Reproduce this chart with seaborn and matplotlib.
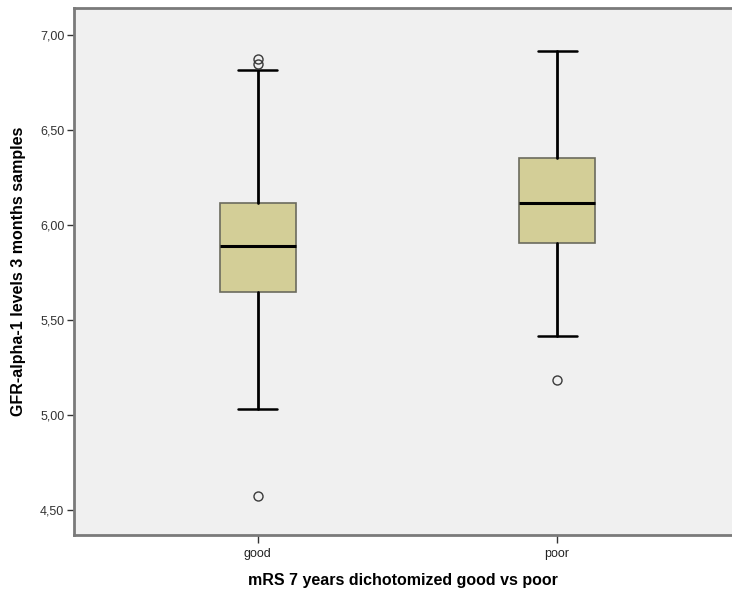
import matplotlib
matplotlib.use("Agg")
import matplotlib.pyplot as plt
import matplotlib.ticker as mticker
import seaborn as sns

# ── Data (five-number summaries) ────────────────────────────────────────────
GROUPS   = ["good", "poor"]
WHIS_LO  = [5.03, 5.415]
Q1       = [5.647, 5.905]
MEDIAN   = [5.889, 6.114]
Q3       = [6.117, 6.354]
WHIS_HI  = [6.814, 6.914]
FLIERS   = [[4.574, 6.847, 6.872], [5.184]]
Y_TICKS  = [4.50, 5.00, 5.50, 6.00, 6.50, 7.00]

X_LABEL = "mRS 7 years dichotomized good vs poor"
Y_LABEL = "GFR-alpha-1 levels 3 months samples"

# ── Style ────────────────────────────────────────────────────────────────────
BG_COLOR  = "#F0F0F0"
BOX_FILL  = "#D3CE97"
BOX_EDGE  = "#6B6B5E"
SPINE_COL = "#7A7A7A"

sns.set_style("white")
plt.rcParams["font.family"] = ["Liberation Sans", "DejaVu Sans"]

fig = plt.figure(figsize=(7.32, 5.94), dpi=100)
ax = fig.add_axes([74 / 732, 1 - 535 / 594, 1 - 74 / 732, (535 - 8) / 594])
ax.set_facecolor(BG_COLOR)

stats = [
    {"label": g, "whislo": lo, "q1": a, "med": m, "q3": b, "whishi": hi, "fliers": f}
    for g, lo, a, m, b, hi, f in zip(GROUPS, WHIS_LO, Q1, MEDIAN, Q3, WHIS_HI, FLIERS)
]
ax.bxp(
    stats, positions=range(len(GROUPS)), widths=0.254, patch_artist=True,
    boxprops=dict(facecolor=BOX_FILL, edgecolor=BOX_EDGE, linewidth=1.2),
    medianprops=dict(color="black", linewidth=2.2),
    whiskerprops=dict(color="black", linewidth=2.0),
    capprops=dict(color="black", linewidth=1.8),
    capwidths=0.13,
    flierprops=dict(marker="o", markersize=6.5, markerfacecolor="none",
                    markeredgecolor="#3A3A3A", markeredgewidth=1.0),
)

ax.set_xlim(-0.613, 1.584)
ax.set_ylim(4.368, 7.142)
ax.set_yticks(Y_TICKS)
ax.yaxis.set_major_formatter(mticker.FuncFormatter(lambda v, _: f"{v:.2f}".replace(".", ",")))
ax.set_xticks(range(len(GROUPS)))
ax.set_xticklabels(GROUPS)

ax.tick_params(axis="y", left=True, length=5, width=1, color="#333333",
               labelsize=9, labelcolor="#333333", pad=2)
ax.tick_params(axis="x", bottom=True, length=6, width=1, color="#333333",
               labelsize=9, labelcolor="#222222", pad=3)

for side in ["left", "top", "bottom"]:
    ax.spines[side].set_visible(True)
    ax.spines[side].set_color(SPINE_COL)
    ax.spines[side].set_linewidth(2)
ax.spines["right"].set_visible(False)

ax.set_xlabel(X_LABEL, fontsize=11.5, fontweight="bold", labelpad=10, color="black")
ax.set_ylabel(Y_LABEL, fontsize=11.5, fontweight="bold", labelpad=10, color="black")

fig.savefig("out.png", dpi=100, facecolor="white")
